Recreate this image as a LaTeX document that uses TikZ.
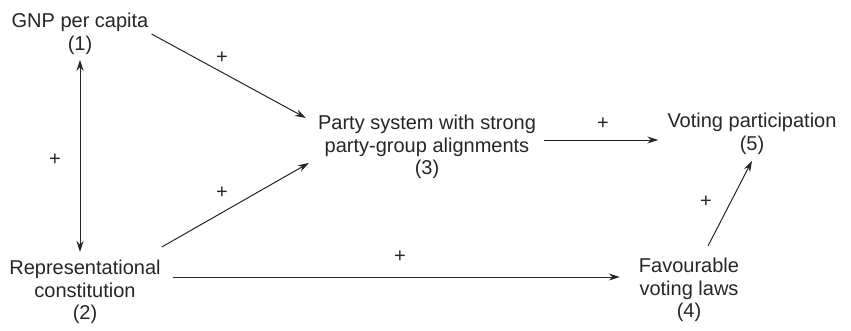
\documentclass[tikz,border=0pt]{standalone}
\usepackage{fontspec}
\setmainfont{Liberation Sans}
\usetikzlibrary{arrows.meta}
\begin{document}
\begin{tikzpicture}[x=1pt,y=-1pt,
    every node/.style={font=\fontsize{20}{22.5}\selectfont, text=black!85, align=center, inner sep=3pt},
    conn/.style={draw=black!85, line width=1pt, -{Stealth[length=11pt,width=7pt]}}]
        \useasboundingbox (0,0) rectangle (851,330);

        \node (gnp) at (80,34) {GNP per capita\\(1)};
        \node (rep) at (85,292) {Representational\\constitution\\(2)};
        \node (party) at (427,147) {Party system with strong\\party-group alignments\\(3)};
        \node (fav) at (689,290) {Favourable\\voting laws\\(4)};
        \node (vote) at (752,134) {Voting participation\\(5)};

        \draw[conn, {Stealth[length=11pt,width=7pt]}-{Stealth[length=11pt,width=7pt]}]
            ([yshift=-2pt]gnp.south) -- ([yshift=5pt]gnp.south |- rep.north);
        \draw[conn] (gnp.east) -- ([shift={(-9pt,-6pt)}]party.north west);
        \draw[conn] ([shift={(-2pt,10pt)}]rep.north east) -- ([shift={(-6pt,-16pt)}]party.west);
        \draw[conn] ([shift={(5pt,7pt)}]party.east) -- ([shift={(-6pt,7pt)}]party.east -| vote.west);
        \draw[conn] ([shift={(9pt,15pt)}]rep.east) -- ([shift={(-16pt,13pt)}]fav.west);
        \draw[conn] ([shift={(19pt,9pt)}]fav.north) -- ([yshift=-3pt]vote.south);

        \node (p1) at (222,58) {+};
        \node (p2) at (222,193) {+};
        \node (p3) at (55,160) {+};
        \node (p4) at (603,124) {+};
        \node (p5) at (400,257) {+};
        \node (p6) at (706,202) {+};
\end{tikzpicture}
\end{document}
